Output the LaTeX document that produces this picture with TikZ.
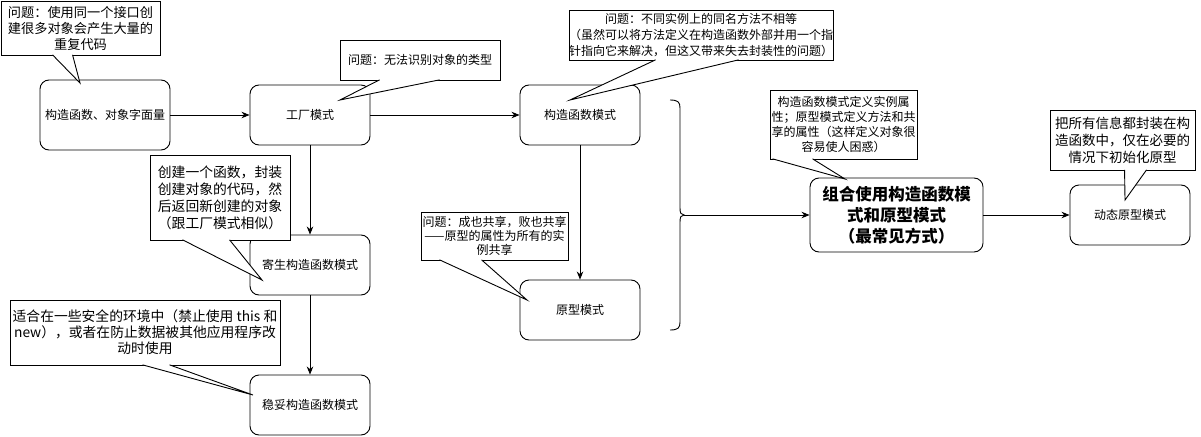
\documentclass[tikz,border=0pt]{standalone}
\usepackage{fontspec}
\newfontfamily\cjk{Noto Sans CJK SC}
\usetikzlibrary{arrows.meta}

\begin{document}
\begin{tikzpicture}[
    x=1pt, y=-1pt,
    line width=0.9pt,
    box/.style={draw, rounded corners=9pt, minimum width=120, minimum height=60, inner sep=0pt, align=center, font=\cjk\fontsize{12}{14}\selectfont},
    mainbox/.style={box, minimum width=173, minimum height=74, font=\cjk\bfseries\fontsize{16.5}{21}\selectfont},
    note/.style={draw, fill=white, inner sep=0pt, align=center, font=\cjk\fontsize{12}{15}\selectfont},
    bignote/.style={note, font=\cjk\fontsize{13.8}{17}\selectfont},
    tail/.style={fill=white, line join=miter},
    >={Stealth[length=8pt, width=6.5pt, inset=2.5pt]}
]
\useasboundingbox (0,0) rectangle (1201,436);

% Pattern boxes
\node[box, minimum width=130, minimum height=70] (literal) at (105,115) {构造函数、对象字面量};
\node[box] (factory) at (310,115) {工厂模式};
\node[box] (parasitic) at (310,265) {寄生构造函数模式};
\node[box] (durable) at (310,405) {稳妥构造函数模式};
\node[box] (ctor) at (580,115) {构造函数模式};
\node[box] (proto) at (580,310) {原型模式};
\node[mainbox] (combo) at (896.5,215) {组合使用构造函数模\\式和原型模式\\（最常见方式）};
\node[box] (dynamic) at (1130,215) {动态原型模式};

% Brace over constructor + prototype
\coordinate (bracetip) at (684,215);
\draw (670,100) .. controls (678,100) and (680,102) .. (680,108) -- (680,208)
      .. controls (680,213) and (681,215) .. (bracetip)
      .. controls (681,215) and (680,217) .. (680,222) -- (680,322)
      .. controls (680,328) and (678,330) .. (670,330);

% Connections
\draw[->] (literal) -- (factory);
\draw[->] (factory) -- (ctor);
\draw[->] (factory) -- (parasitic);
\draw[->] (parasitic) -- (durable);
\draw[->] (ctor) -- (proto);
\draw[->] (bracetip) -- (combo);
\draw[->] (combo) -- (dynamic);

% Callouts
\node[bignote, font=\cjk\fontsize{13.2}{16}\selectfont, minimum width=159, minimum height=54] (n1) at (80.5,28) {问题：使用同一个接口创\\建很多对象会产生大量的\\重复代码};
\coordinate (n1tip) at (80,83);
\draw[tail] ([xshift=52pt,yshift=0.6pt]n1.south west) -- (n1tip) -- ([xshift=72pt,yshift=0.6pt]n1.south west);

\node[note, minimum width=160, minimum height=40] (n2) at (420,60) {问题：无法识别对象的类型};
\coordinate (n2tip) at (340,100);
\draw[tail] ([xshift=40pt,yshift=0.6pt]n2.south west) -- (n2tip) -- ([xshift=100pt,yshift=0.6pt]n2.south west);

\node[bignote, minimum width=140, minimum height=85] (n3) at (220,197.5) {创建一个函数，封装\\创建对象的代码，然\\后返回新创建的对象\\（跟工厂模式相似）};
\coordinate (n3tip) at (262,280);
\draw[tail] ([xshift=33pt,yshift=0.6pt]n3.south west) -- (n3tip) -- ([xshift=80pt,yshift=0.6pt]n3.south west);

\node[bignote, font=\cjk\fontsize{13.8}{16}\selectfont, minimum width=270, minimum height=65] (n4) at (145,332.5) {适合在一些安全的环境中（禁止使用 this 和\\new），或者在防止数据被其他应用程序改\\动时使用};
\coordinate (n4tip) at (253,395);
\draw[tail] ([xshift=133pt,yshift=0.6pt]n4.south west) -- (n4tip) -- ([xshift=160pt,yshift=0.6pt]n4.south west);

\node[note, font=\cjk\fontsize{12}{14}\selectfont, minimum width=147, minimum height=48] (n5) at (494.5,236) {问题：成也共享，败也共享\\——原型的属性为所有的实\\例共享};
\coordinate (n5tip) at (527,300);
\draw[tail] ([xshift=19pt,yshift=0.6pt]n5.south west) -- (n5tip) -- ([xshift=61pt,yshift=0.6pt]n5.south west);

\node[note, font=\cjk\fontsize{12}{16}\selectfont, minimum width=262, minimum height=50] (n6) at (701,35) {问题：不同实例上的同名方法不相等\\（虽然可以将方法定义在构造函数外部并用一个指\\针指向它来解决，但这又带来失去封装性的问题）};
\coordinate (n6tip) at (570,100);
\draw[tail] ([xshift=87pt,yshift=0.6pt]n6.south west) -- (n6tip) -- ([xshift=170pt,yshift=0.6pt]n6.south west);

\node[note, minimum width=147, minimum height=69] (n7) at (843.5,124.5) {构造函数模式定义实例属\\性；原型模式定义方法和共\\享的属性（这样定义对象很\\容易使人困惑）};
\coordinate (n7tip) at (845,179);
\draw[tail] ([xshift=3pt,yshift=0.6pt]n7.south west) -- (n7tip) -- ([xshift=43pt,yshift=0.6pt]n7.south west);

\node[bignote, font=\cjk\fontsize{13.5}{17}\selectfont, minimum width=145, minimum height=60] (n8) at (1122.5,140) {把所有信息都封装在构\\造函数中，仅在必要的\\情况下初始化原型};
\coordinate (n8tip) at (1125,200);
\draw[tail] ([xshift=75pt,yshift=0.6pt]n8.south west) -- (n8tip) -- ([xshift=97pt,yshift=0.6pt]n8.south west);

\end{tikzpicture}
\end{document}
